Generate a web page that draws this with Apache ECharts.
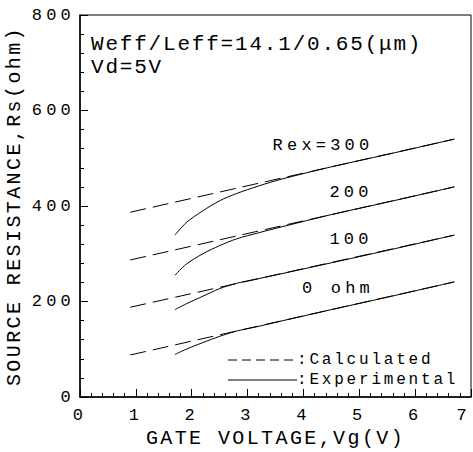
<!DOCTYPE html>
<html>
<head>
<meta charset="utf-8">
<script src="https://cdn.jsdelivr.net/npm/echarts@6/dist/echarts.min.js"></script>
<style>
html, body { margin: 0; padding: 0; background: #fff; }
#chart { width: 473px; height: 452px; }
/* plotter lettering is widely spaced */
#chart text[style*="17px"] { letter-spacing: 4.2px; }
#chart text[style*="16px"] { letter-spacing: 2.8px; }
#chart text[style*="20px"] { letter-spacing: 2.4px; }
#chart text[style*="21px"] { letter-spacing: 1.8px; }
</style>
</head>
<body>
<div id="chart"></div>
<script>
// calculated (dashed) lines: straight, from Vg=0.9 to 6.7
var calcX = [0.9, 6.7];
var calc300 = [387, 540];
var calc200 = [287, 440];
var calc100 = [188, 339];
var calc0 = [88, 241];

// experimental (solid) curves
var expX = [1.7, 1.9, 2.2, 2.5, 2.8, 3.2, 3.6, 4.5, 5.5, 6.7];
var exp300 = [339, 365, 390, 411, 426, 442, 456, 482, 508, 540];
var exp200 = [255, 278, 300, 317, 331, 344, 356, 382, 408, 440];
var exp100 = [183, 195, 211, 227, 238, 248, 258, 281, 307, 339];
var exp0 = [89, 100, 114, 127, 138, 148, 159, 183, 209, 241];

var curveLabels = ['Rex=300', '200', '100', '0 ohm'];

var FONT = 'Liberation Mono';
var small = '17px "' + FONT + '"';
var legendFont = '16px "' + FONT + '"';
var big = '21px "' + FONT + '"';

function pairs(xs, ys) {
	var out = [];
	for (var i = 0; i < xs.length; i++) out.push([xs[i], ys[i]]);
	return out;
}

var calcAll = [calc300, calc200, calc100, calc0];
var expAll = [exp300, exp200, exp100, exp0];
var series = [];
for (var i = 0; i < calcAll.length; i++) {
	series.push({
		type: 'line',
		data: pairs(calcX, calcAll[i]),
		symbol: 'none',
		silent: true,
		lineStyle: { color: '#000', width: 1, type: [16, 7] }
	});
	series.push({
		type: 'line',
		data: pairs(expX, expAll[i]),
		symbol: 'none',
		smooth: 0.3,
		silent: true,
		lineStyle: { color: '#000', width: 1 }
	});
}

var myChart = echarts.init(document.getElementById('chart'), null, { renderer: 'svg' });

var labelPos = [[323, 145], [351, 192], [351, 239], [338, 288]];
var graphics = [];
for (var j = 0; j < curveLabels.length; j++) {
	graphics.push({
		type: 'text', x: labelPos[j][0], y: labelPos[j][1],
		style: { text: curveLabels[j], font: small, fill: '#000', textAlign: 'center', textVerticalAlign: 'middle' }
	});
}
//说明文字
graphics.push({
	type: 'text', x: 91, y: 44,
	style: { text: 'Weff/Leff=14.1/0.65(μm)', font: big, fill: '#000', textAlign: 'left', textVerticalAlign: 'middle' }
});
graphics.push({
	type: 'text', x: 91, y: 67,
	style: { text: 'Vd=5V', font: big, fill: '#000', textAlign: 'left', textVerticalAlign: 'middle' }
});
//图例
graphics.push({
	type: 'line', shape: { x1: 228, y1: 360, x2: 296, y2: 360 },
	style: { stroke: '#000', lineWidth: 1, lineDash: [9, 5] }
});
graphics.push({
	type: 'line', shape: { x1: 228, y1: 380, x2: 297, y2: 380 },
	style: { stroke: '#000', lineWidth: 1 }
});
graphics.push({
	type: 'text', x: 297, y: 360,
	style: { text: ':Calculated', font: legendFont, fill: '#000', textAlign: 'left', textVerticalAlign: 'middle' }
});
graphics.push({
	type: 'text', x: 297, y: 380,
	style: { text: ':Experimental', font: legendFont, fill: '#000', textAlign: 'left', textVerticalAlign: 'middle' }
});

var option = {
	animation: false,
	backgroundColor: '#fff',
	grid: {
		left: 80, right: 2, top: 15, bottom: 55,
		outerBoundsMode: 'none',
		show: true, borderColor: '#000', borderWidth: 1
	},
	xAxis: {
		type: 'value', min: 0, max: 7, interval: 1,
		name: 'GATE VOLTAGE,Vg(V)', nameLocation: 'middle', nameGap: 30,
		nameTextStyle: { fontFamily: FONT, fontSize: 20, color: '#000' },
		axisLine: { lineStyle: { color: '#000', width: 1.5 } },
		axisTick: { inside: true, length: 8, lineStyle: { color: '#000', width: 1 } },
		minorTick: { show: true, splitNumber: 5, length: 4, lineStyle: { color: '#000', width: 1 } },
		splitLine: { show: false },
		axisLabel: { fontFamily: FONT, fontSize: 17, color: '#000', margin: 10, alignMaxLabel: 'right' }
	},
	yAxis: {
		type: 'value', min: 0, max: 800, interval: 200,
		name: 'SOURCE RESISTANCE,Rs(ohm)', nameLocation: 'middle', nameGap: 56,
		nameTextStyle: { fontFamily: FONT, fontSize: 20, color: '#000' },
		axisLine: { lineStyle: { color: '#000', width: 1.5 } },
		axisTick: { inside: true, length: 8, lineStyle: { color: '#000', width: 1 } },
		minorTick: { show: true, splitNumber: 5, length: 4, lineStyle: { color: '#000', width: 1 } },
		splitLine: { show: false },
		axisLabel: { fontFamily: FONT, fontSize: 17, color: '#000', margin: 5 }
	},
	graphic: graphics,
	series: series
};

myChart.setOption(option);
</script>
</body>
</html>
